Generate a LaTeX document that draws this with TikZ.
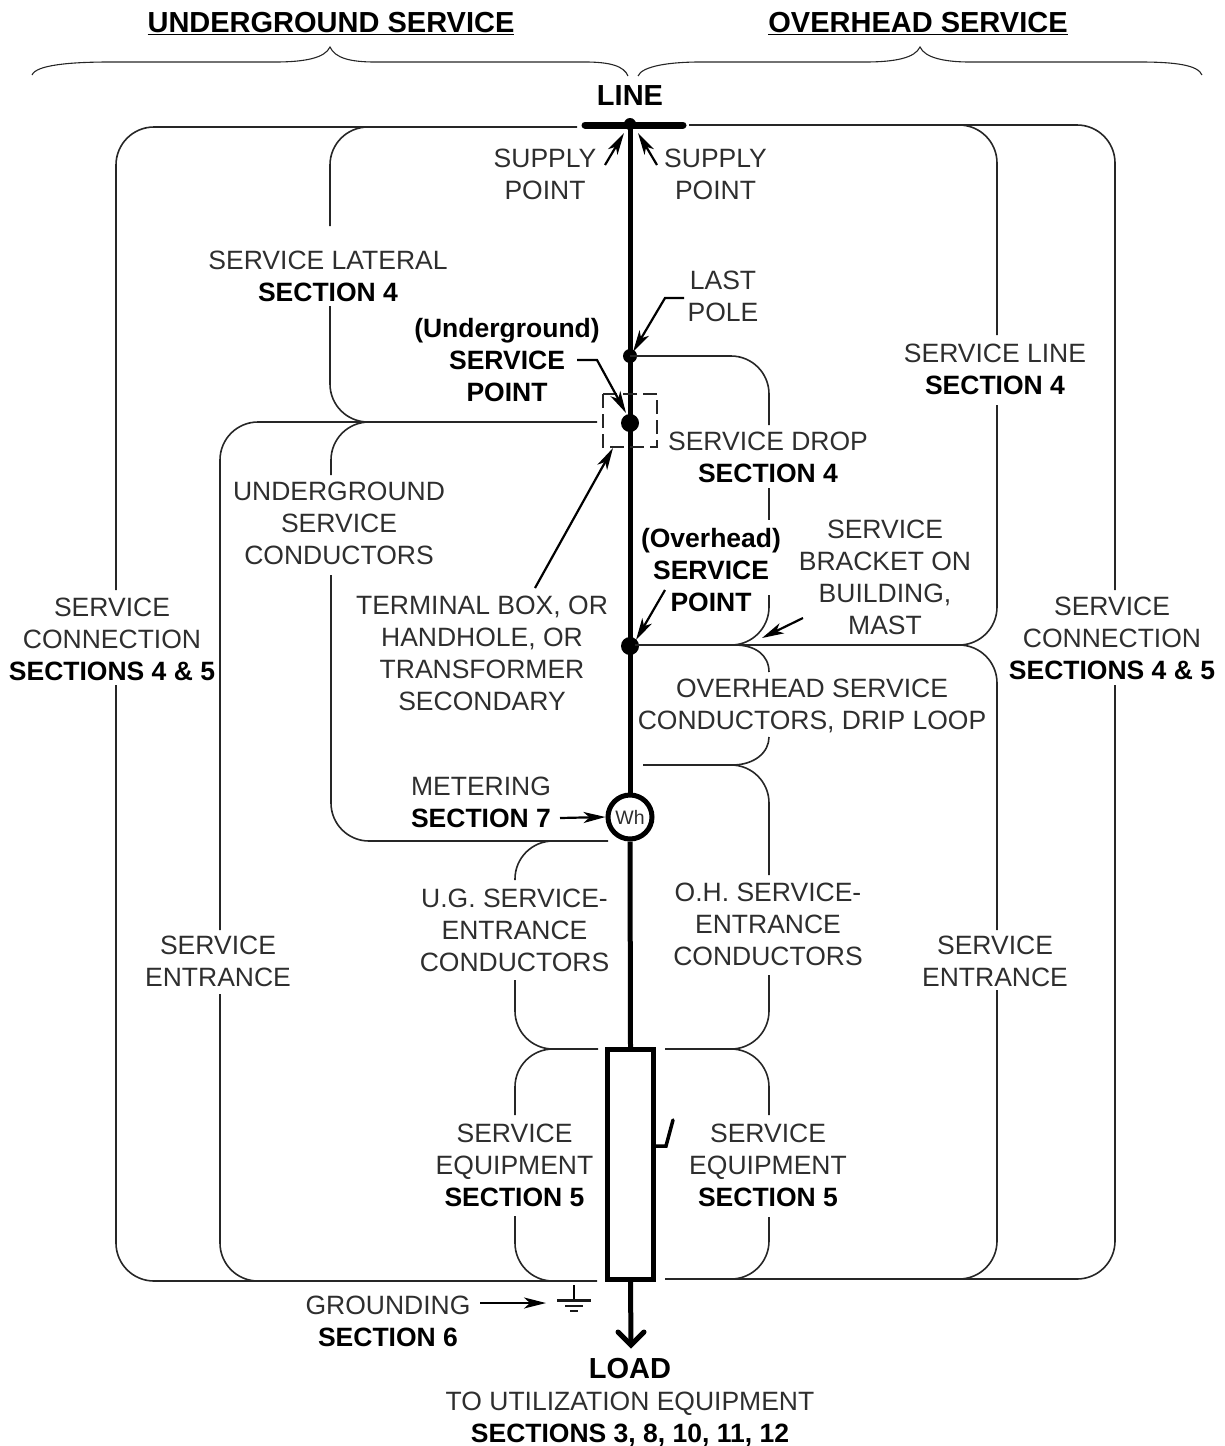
\documentclass[tikz,border=0pt]{standalone}
\usepackage{fontspec}
\setmainfont{Liberation Sans}
\usetikzlibrary{arrows.meta}
\definecolor{txt}{HTML}{2E2E2E}
\tikzset{
  lbl/.style={align=center,inner sep=0pt,text=txt,font=\fontsize{26.5}{32}\selectfont},
  biglbl/.style={lbl,font=\fontsize{29}{32}\selectfont},
  hair/.style={line width=1.6pt,black!85,rounded corners=38pt},
  brace/.style={line width=1.1pt,black!85},
  heavy/.style={line width=5pt,black},
  dot/.style={circle,fill=black,inner sep=0pt},
  lead/.style={line width=2.2pt,black,-{Stealth[length=22pt,width=11pt,inset=6pt]}},
  dashbox/.style={line width=1.3pt,black!85,dash pattern=on 14pt off 6pt},
  gndbar/.style={line width=2.4pt,black!90},
}
\newcommand{\bb}[1]{\textcolor{black}{\textbf{#1}}}
\begin{document}
\begin{tikzpicture}[x=1pt,y=-1pt]
\useasboundingbox (0,0) rectangle (1225,1446);
% headings
\node[biglbl] (ughead) at (331,23.5) {\bb{\underline{UNDERGROUND SERVICE}}};
\node[biglbl] (ohhead) at (918,23.5) {\bb{\underline{OVERHEAD SERVICE}}};
% braces
\coordinate (bl0) at (32,75); \coordinate (blp) at (330,47); \coordinate (bl1) at (628,76);
\coordinate (br0) at (638,76); \coordinate (brp) at (920,47); \coordinate (br1) at (1202,75);
\draw[brace] (bl0) .. controls (36,65) and (70,62) .. (110,62) -- (275,62) .. controls (305,62) and (325,58) .. (blp)
  .. controls (335,58) and (350,62) .. (375,62) -- (585,62) .. controls (610,62) and (624,66) .. (bl1);
\draw[brace] (br0) .. controls (642,66) and (670,62) .. (700,62) -- (865,62) .. controls (895,62) and (915,58) .. (brp)
  .. controls (925,58) and (945,62) .. (970,62) -- (1140,62) .. controls (1175,62) and (1198,65) .. (br1);
% labels
\node[biglbl] (line) at (630,96) {\bb{LINE}};
\node[lbl] (sp1) at (545,174) {SUPPLY\\POINT};
\node[lbl] (sp2) at (715.5,174) {SUPPLY\\POINT};
\node[lbl] (slat) at (328,276) {SERVICE LATERAL\\\bb{SECTION 4}};
\node[lbl] (lastp) at (723,296) {LAST\\POLE};
\node[lbl] (usp) at (507,360) {\bb{(Underground)}\\\bb{SERVICE}\\\bb{POINT}};
\node[lbl] (sline) at (995,369) {SERVICE LINE\\\bb{SECTION 4}};
\node[lbl] (sdrop) at (768,457) {SERVICE DROP\\\bb{SECTION 4}};
\node[lbl] (ugc) at (339,523) {UNDERGROUND\\SERVICE\\CONDUCTORS};
\node[lbl] (osp) at (711,570) {\bb{(Overhead)}\\\bb{SERVICE}\\\bb{POINT}};
\node[lbl] (brk) at (885,577) {SERVICE\\BRACKET ON\\BUILDING,\\MAST};
\node[lbl] (term) at (482,653.5) {TERMINAL BOX, OR\\HANDHOLE, OR\\TRANSFORMER\\SECONDARY};
\node[lbl] (scl) at (112,639) {SERVICE\\CONNECTION\\\bb{SECTIONS 4 \& 5}};
\node[lbl] (scr) at (1112,638) {SERVICE\\CONNECTION\\\bb{SECTIONS 4 \& 5}};
\node[lbl] (ohc) at (812,706) {OVERHEAD SERVICE\\CONDUCTORS, DRIP LOOP};
\node[lbl] (met) at (481,802) {METERING\\\bb{SECTION 7}};
\node[lbl] (uge) at (514.5,930) {U.G. SERVICE-\\ENTRANCE\\CONDUCTORS};
\node[lbl] (ohe) at (768,924) {O.H. SERVICE-\\ENTRANCE\\CONDUCTORS};
\node[lbl] (sel) at (218,961) {SERVICE\\ENTRANCE};
\node[lbl] (ser) at (995,961) {SERVICE\\ENTRANCE};
\node[lbl] (eql) at (514.5,1165) {SERVICE\\EQUIPMENT\\\bb{SECTION 5}};
\node[lbl] (eqr) at (768,1165) {SERVICE\\EQUIPMENT\\\bb{SECTION 5}};
\node[lbl] (gnd) at (388,1321) {GROUNDING\\\bb{SECTION 6}};
\node[lbl] (load) at (630,1402) {{\fontsize{29}{32}\selectfont\bb{LOAD}}\\TO UTILIZATION EQUIPMENT\\\bb{SECTIONS 3, 8, 10, 11, 12}};
% main devices
\node[circle,draw=black,line width=5pt,minimum size=44pt,inner sep=0pt,fill=white,text=txt,font=\fontsize{19.5}{20}\selectfont] (wh) at (630,817) {Wh};
\node[draw=black,line width=5pt,minimum width=46pt,minimum height=230pt,inner sep=0pt] (panel) at (630.5,1164.5) {};
\node[dot,minimum size=12pt] (top) at (630,124) {};
\node[dot,minimum size=14pt] (pole) at (630,356) {};
\node[dot,minimum size=18pt] (ugpt) at (630,423) {};
\node[dot,minimum size=18pt] (ohpt) at (630,646) {};
\coordinate (barl) at (585,125); \coordinate (barr) at (683,125);
\coordinate (loadtip) at (631,1345);
\draw[line width=7pt,line cap=round] (barl) -- (barr);
\draw[heavy] (top.center) -- (wh.north);
\draw[heavy] (wh.south) -- (panel.north);
\draw[heavy] (panel.south) -- (loadtip);
\draw[line width=5pt,line cap=round,line join=miter] (618,1332) -- (loadtip) -- (644,1332);
\draw[line width=3.5pt,line cap=round] (panel.east |- 0,1146) -- (666,1146) -- (673,1120);
% dashed box
\coordinate (dbtl) at (603,394); \coordinate (dbbr) at (657,447);
\draw[dashbox] (dbtl) rectangle (dbbr);
% brackets, left
\draw[hair] (577,127) -- (116,127) -- (116,590);
\draw[hair] (116,685) -- (116,1281) -- (597,1281);
\draw[hair] (372,127) -- (330,127) -- (330,226);
\draw[hair] (330,306) -- (330,422) -- (372,422);
\draw[hair] (597,422) -- (220,422) -- (220,930);
\draw[hair] (220,994) -- (220,1281) -- (265,1281);
\draw[hair] (372,422) -- (331,422) -- (331,475);
\draw[hair] (331,575) -- (331,841) -- (608,841);
\draw[hair] (553,841) -- (515,841) -- (515,880);
\draw[hair] (515,980) -- (515,1049) -- (555,1049);
\draw[hair] (598,1049) -- (515,1049) -- (515,1115);
\draw[hair] (515,1216) -- (515,1281) -- (558,1281);
% brackets, right
\draw[hair] (689,125) -- (1115,125) -- (1115,590);
\draw[hair] (1115,685) -- (1115,1279) -- (665,1279);
\draw[hair] (958,125) -- (997,125) -- (997,335);
\draw[hair] (997,405) -- (997,645) -- (635,645);
\draw[hair] (958,645) -- (997,645) -- (997,930);
\draw[hair] (997,990) -- (997,1279) -- (958,1279);
\draw[hair] (pole.center) -- (769,356) -- (769,425);
\draw[hair] (769,488) -- (769,520);
\draw[hair] (769,595) -- (769,645) -- (732,645);
\draw[hair,sharp corners] (735,645) .. controls (755,645) and (769,655) .. (769,672);
\draw[hair,sharp corners] (769,737) .. controls (769,752) and (755,765) .. (732,765) -- (643,765);
\draw[hair] (732,765) -- (769,765) -- (769,875);
\draw[hair] (769,975) -- (769,1049) -- (665,1049);
\draw[hair] (732,1049) -- (769,1049) -- (769,1115);
\draw[hair] (769,1217) -- (769,1279) -- (728,1279);
% leaders
\draw[lead] (605,165) -- (624,133);
\draw[lead] (657,165) -- (638,133);
\draw[lead] (684,298) -- (665,298) -- (633,352);
\draw[lead] (577,360) -- (597,360) -- (626,413);
\draw[lead] (535,588) -- (613,448);
\draw[lead] (665,590) -- (636,640);
\draw[lead] (803,618) -- (762,638);
\draw[lead] (560,818) -- (wh.west);
\coordinate (gtop) at (574,1285);
\draw[lead] (480,1303) -- (546,1303);
% ground symbol
\draw[line width=2pt] (gtop) -- (574,1300);
\draw[gndbar] (557,1300.5) -- (591,1300.5);
\draw[gndbar] (565,1306) -- (583,1306);
\draw[gndbar] (570,1311) -- (578,1311);
\end{tikzpicture}
\end{document}
